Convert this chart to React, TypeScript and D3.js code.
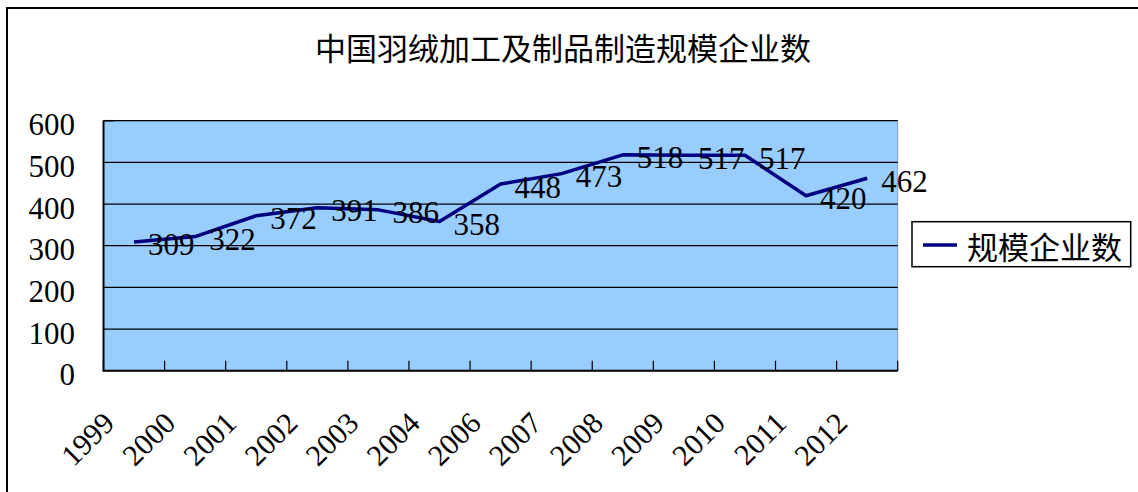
import React from "react";
import * as d3 from "d3";

const title = "中国羽绒加工及制品制造规模企业数";
const seriesName = "规模企业数";
const categories = ["1999", "2000", "2001", "2002", "2003", "2004", "2006", "2007", "2008", "2009", "2010", "2011", "2012"];
const values = [309, 322, 372, 391, 386, 358, 448, 473, 518, 517, 517, 420, 462];
const yTicks = [0, 100, 200, 300, 400, 500, 600];

const W = 1138;
const H = 492;
const plot = { left: 103.5, right: 897.7, top: 120.7, bottom: 370.7 };
const serif = "'Liberation Serif', 'DejaVu Serif', serif";
const cjk = "'Noto Sans CJK SC', 'Noto Sans', sans-serif";

export default function App() {
  const x = d3.scaleBand<string>().domain(categories).range([plot.left, plot.right]).padding(0);
  const y = d3.scaleLinear().domain([0, 600]).range([plot.bottom, plot.top]);
  const cx = (c: string) => (x(c) as number) + x.bandwidth() / 2;
  const pts: [number, number][] = categories.map((c, i) => [cx(c), y(values[i])]);
  const line = d3.line().curve(d3.curveLinear)(pts) as string;
  const tickXs = categories.map((c) => x(c) as number).concat([plot.right]);

  return (
    <svg width={W} height={H} style={{ position: "absolute", left: 0, top: 0, background: "#fff" }}>
      <rect x={7} y={8} width={1150} height={520} fill="#fff" stroke="#000" strokeWidth={2} />
      <text x={563} y={46} textAnchor="middle" dominantBaseline="central" fontFamily={cjk} fontSize={31} fill="#000">
        {title}
      </text>

      <rect x={plot.left} y={plot.top} width={plot.right - plot.left} height={plot.bottom - plot.top} fill="#99CCFF" stroke="#7f9fcf" strokeWidth={1} />

      {yTicks.filter((t) => t > 0).map((t) => (
        <line key={"g" + t} x1={plot.left} x2={plot.right} y1={y(t)} y2={y(t)} stroke="#000" strokeWidth={1.2} />
      ))}
      <line x1={plot.left} x2={plot.left + 10} y1={plot.top} y2={plot.top} stroke="#000" strokeWidth={1.5} />

      {tickXs.map((tx, i) => (
        <line key={"t" + i} x1={tx} x2={tx} y1={plot.bottom} y2={plot.bottom - 10} stroke="#000" strokeWidth={1.2} />
      ))}
      <line x1={plot.left} x2={plot.left} y1={plot.top} y2={plot.bottom + 1} stroke="#000" strokeWidth={2} />
      <line x1={plot.left} x2={plot.right} y1={plot.bottom} y2={plot.bottom} stroke="#000" strokeWidth={2} />

      {yTicks.map((t) => (
        <text key={"y" + t} x={75} y={y(t) + 4} textAnchor="end" dominantBaseline="central" fontFamily={serif} fontSize={31} fill="#000">
          {t}
        </text>
      ))}

      {categories.map((c) => {
        const ax = cx(c) - 18;
        const ay = 425;
        return (
          <text key={"x" + c} x={ax} y={ay} textAnchor="end" transform={`rotate(-45 ${ax} ${ay})`} fontFamily={serif} fontSize={30} fill="#000">
            {c}
          </text>
        );
      })}

      <path d={line} fill="none" stroke="#000080" strokeWidth={3.5} strokeLinejoin="round" />

      {pts.map(([px, py], i) => (
        <text key={"l" + i} x={px + 14} y={py + 3} dominantBaseline="central" fontFamily={serif} fontSize={31} fill="#000">
          {values[i]}
        </text>
      ))}

      <rect x={912} y={221.7} width={218.7} height={45} fill="#fff" stroke="#000" strokeWidth={1.5} />
      <line x1={923} x2={957} y1={245} y2={245} stroke="#000080" strokeWidth={3.5} />
      <text x={967} y={245} dominantBaseline="central" fontFamily={cjk} fontSize={31} fill="#000">
        {seriesName}
      </text>
    </svg>
  );
}
